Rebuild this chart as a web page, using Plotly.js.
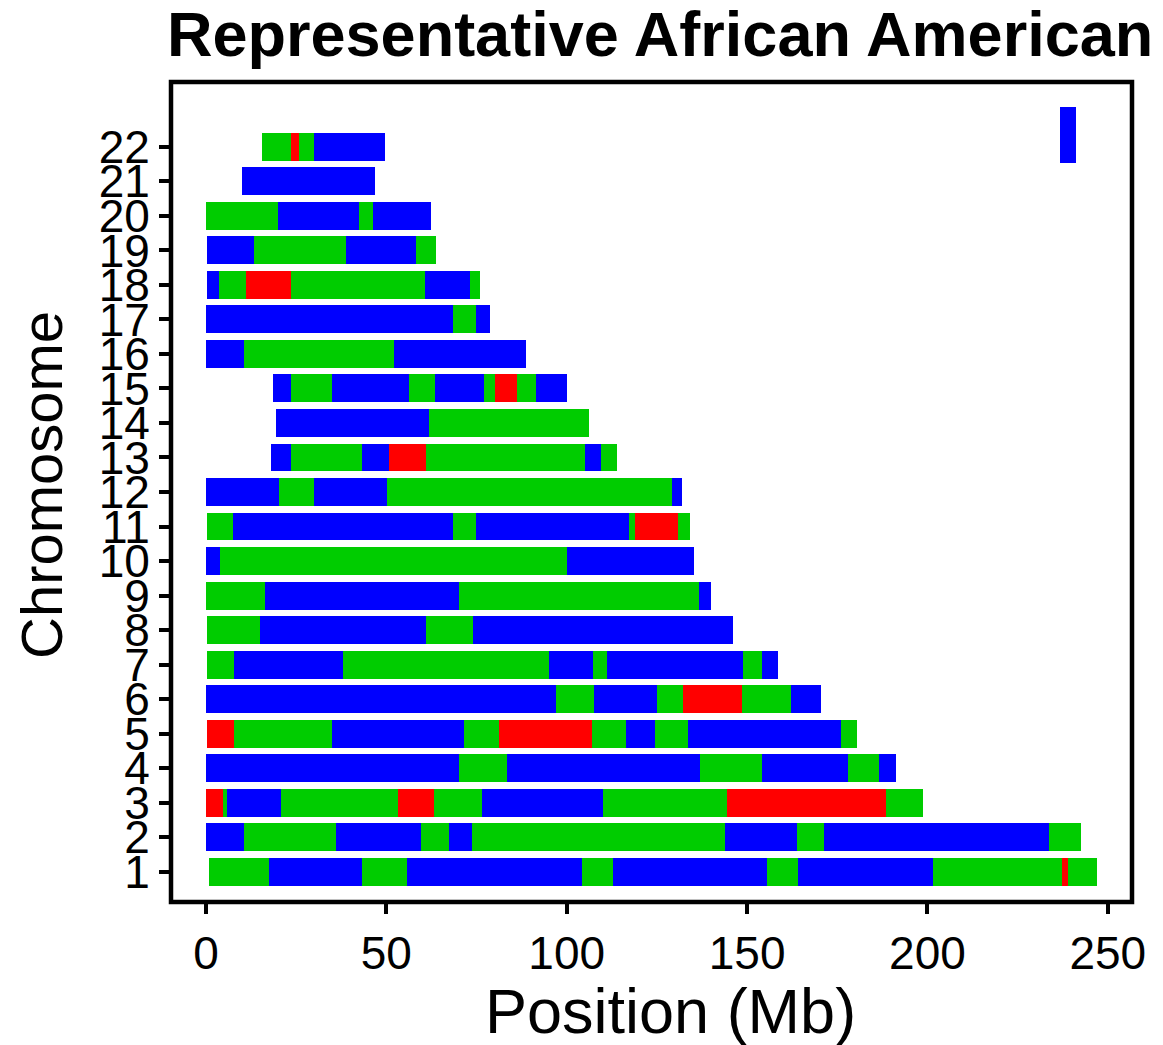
<!DOCTYPE html>
<html>
<head>
<meta charset="utf-8">
<script src="https://cdn.plot.ly/plotly-3.0.1.min.js"></script>
<style>
  html, body { margin: 0; padding: 0; background: #ffffff; }
  #chart { width: 1163px; height: 1045px; }
</style>
</head>
<body>
<div id="chart"></div>
<script>
// ---- Data (segment boundaries in Mb; ancestry code per segment) ----
// Ancestry codes: B = blue, G = green, R = red
const chromosomes = [1,2,3,4,5,6,7,8,9,10,11,12,13,14,15,16,17,18,19,20,21,22];

const chr1Bounds = [0.8, 17.5, 43.2, 55.8, 104.2, 112.8, 155.6, 164.1, 201.5, 237.4, 239.0, 247.1];
const chr1Anc    = ['G','B','G','B','G','B','G','B','G','R','G'];
const chr2Bounds = [0.1, 10.5, 36.0, 59.6, 67.3, 73.8, 144.0, 163.9, 171.2, 233.7, 242.6];
const chr2Anc    = ['B','G','B','G','B','G','B','G','B','G'];
const chr3Bounds = [0.1, 4.8, 5.8, 20.7, 53.2, 63.3, 76.4, 110.1, 144.5, 188.6, 198.9];
const chr3Anc    = ['R','G','B','G','R','G','B','G','R','G'];
const chr4Bounds = [0.1, 70.2, 83.5, 137.0, 154.1, 178.1, 186.7, 191.2];
const chr4Anc    = ['B','G','B','G','B','G','B'];
const chr5Bounds = [0.2, 7.7, 34.9, 71.6, 81.1, 107.1, 116.5, 124.5, 133.5, 175.9, 180.6];
const chr5Anc    = ['R','G','B','G','R','G','B','G','B','G'];
const chr6Bounds = [0.1, 97.0, 107.5, 125.1, 132.2, 148.7, 162.3, 170.6];
const chr6Anc    = ['B','G','B','G','R','G','B'];
const chr7Bounds = [0.3, 7.9, 38.1, 95.1, 107.4, 111.1, 148.9, 154.2, 158.7];
const chr7Anc    = ['G','B','G','B','G','B','G','B'];
const chr8Bounds = [0.3, 15.1, 61.1, 74.0, 146.1];
const chr8Anc    = ['G','B','G','B'];
const chr9Bounds = [0.1, 16.4, 70.2, 136.7, 140.0];
const chr9Anc    = ['G','B','G','B'];
const chr10Bounds = [0.1, 4.0, 100.1, 135.3];
const chr10Anc    = ['B','G','B'];
const chr11Bounds = [0.3, 7.5, 68.5, 74.8, 117.3, 118.8, 130.9, 134.3];
const chr11Anc    = ['G','B','G','B','G','R','G'];
const chr12Bounds = [0.1, 20.2, 29.9, 50.2, 129.1, 131.9];
const chr12Anc    = ['B','G','B','G','B'];
const chr13Bounds = [18.1, 23.7, 43.2, 50.6, 61.1, 105.0, 109.4, 113.8];
const chr13Anc    = ['B','G','B','R','G','B','G'];
const chr14Bounds = [19.5, 61.8, 106.1];
const chr14Anc    = ['B','G'];
const chr15Bounds = [18.5, 23.7, 34.8, 56.2, 63.4, 77.2, 80.1, 86.2, 91.4, 100.0];
const chr15Anc    = ['B','G','B','G','B','G','R','G','B'];
const chr16Bounds = [0.1, 10.5, 52.0, 88.6];
const chr16Anc    = ['B','G','B'];
const chr17Bounds = [0.1, 68.4, 74.8, 78.6];
const chr17Anc    = ['B','G','B'];
const chr18Bounds = [0.2, 3.7, 11.2, 23.7, 60.6, 73.3, 76.0];
const chr18Anc    = ['B','G','R','G','B','G'];
const chr19Bounds = [0.3, 13.4, 38.7, 58.2, 63.8];
const chr19Anc    = ['B','G','B','G'];
const chr20Bounds = [0.1, 20.0, 42.3, 46.4, 62.4];
const chr20Anc    = ['G','B','G','B'];
const chr21Bounds = [10.1, 46.9];
const chr21Anc    = ['B'];
const chr22Bounds = [15.4, 23.6, 25.9, 29.9, 49.5];
const chr22Anc    = ['G','R','G','B'];

const xTickVals = [0, 50, 100, 150, 200, 250];
const titleText = 'Representative African American';
const xTitleText = 'Position (Mb)';
const yTitleText = 'Chromosome';

// ---- Build traces ----
const ancColors = { B: '#0000FF', G: '#00CC00', R: '#FF0000' };
const segTable = {
  1:[chr1Bounds,chr1Anc], 2:[chr2Bounds,chr2Anc], 3:[chr3Bounds,chr3Anc], 4:[chr4Bounds,chr4Anc],
  5:[chr5Bounds,chr5Anc], 6:[chr6Bounds,chr6Anc], 7:[chr7Bounds,chr7Anc], 8:[chr8Bounds,chr8Anc],
  9:[chr9Bounds,chr9Anc], 10:[chr10Bounds,chr10Anc], 11:[chr11Bounds,chr11Anc], 12:[chr12Bounds,chr12Anc],
  13:[chr13Bounds,chr13Anc], 14:[chr14Bounds,chr14Anc], 15:[chr15Bounds,chr15Anc], 16:[chr16Bounds,chr16Anc],
  17:[chr17Bounds,chr17Anc], 18:[chr18Bounds,chr18Anc], 19:[chr19Bounds,chr19Anc], 20:[chr20Bounds,chr20Anc],
  21:[chr21Bounds,chr21Anc], 22:[chr22Bounds,chr22Anc]
};

const traces = [];
['B','G','R'].forEach(code => {
  const ys = [], bases = [], lens = [];
  chromosomes.forEach(c => {
    const [bounds, anc] = segTable[c];
    anc.forEach((a, i) => {
      if (a === code) {
        ys.push(c);
        bases.push(bounds[i]);
        lens.push(bounds[i + 1] - bounds[i]);
      }
    });
  });
  traces.push({
    type: 'bar',
    orientation: 'h',
    y: ys,
    base: bases,
    x: lens,
    width: 0.81,
    marker: { color: ancColors[code], line: { width: 0 } },
    showlegend: false,
    hoverinfo: 'skip'
  });
});

const FONT = '"Liberation Sans", Arial, Helvetica, sans-serif';
const W = 1163, H = 1045;
const M = { l: 171, r: 31, t: 82, b: 143 };
const PW = W - M.l - M.r, PH = H - M.t - M.b;
const px2x = px => (px - M.l) / PW;
const px2y = py => 1 - (py - M.t) / PH;

const layout = {
  width: W,
  height: H,
  paper_bgcolor: '#ffffff',
  plot_bgcolor: '#ffffff',
  margin: { l: M.l, r: M.r, t: M.t, b: M.b, pad: 0 },
  barmode: 'overlay',
  bargap: 0,
  showlegend: false,
  title: {
    text: '<b>' + titleText + '</b>',
    font: { family: FONT, size: 63, color: '#000000' },
    xref: 'container', x: 167 / W, xanchor: 'left',
    yref: 'container', y: 1 - 12 / H, yanchor: 'top'
  },
  xaxis: {
    range: [-9.7, 256.7],
    tickvals: xTickVals,
    ticktext: xTickVals.map(String),
    ticks: 'outside', ticklen: 11, tickwidth: 4, tickcolor: '#000000',
    showgrid: false, zeroline: false, showline: false,
    tickfont: { family: FONT, size: 46, color: '#000000' },
    automargin: false, fixedrange: true
  },
  yaxis: {
    range: [0.12, 23.88],
    tickvals: chromosomes,
    ticktext: chromosomes.map(String),
    ticks: 'outside', ticklen: 11, tickwidth: 4, tickcolor: '#000000',
    showgrid: false, zeroline: false, showline: false,
    tickfont: { family: FONT, size: 46, color: '#000000' },
    automargin: false, fixedrange: true
  },
  annotations: [
    { text: xTitleText, xref: 'paper', yref: 'paper', x: px2x(670), y: px2y(1011),
      xanchor: 'center', yanchor: 'middle', showarrow: false,
      font: { family: FONT, size: 63, color: '#000000' } },
    { text: yTitleText, xref: 'paper', yref: 'paper', x: px2x(41), y: px2y(485),
      xanchor: 'center', yanchor: 'middle', showarrow: false, textangle: -90,
      font: { family: FONT, size: 58, color: '#000000' } }
  ],
  shapes: [
    { type: 'rect', xref: 'paper', yref: 'paper', x0: 0, x1: 1, y0: 0, y1: 1,
      line: { color: '#000000', width: 4.5 }, fillcolor: 'rgba(0,0,0,0)', layer: 'above' },
    { type: 'rect', xref: 'paper', yref: 'paper',
      x0: px2x(1060), x1: px2x(1076), y0: px2y(163), y1: px2y(107),
      line: { width: 0 }, fillcolor: '#0000FF', layer: 'above' }
  ]
};

Plotly.newPlot('chart', traces, layout, { displayModeBar: false, staticPlot: true });
</script>
</body>
</html>
